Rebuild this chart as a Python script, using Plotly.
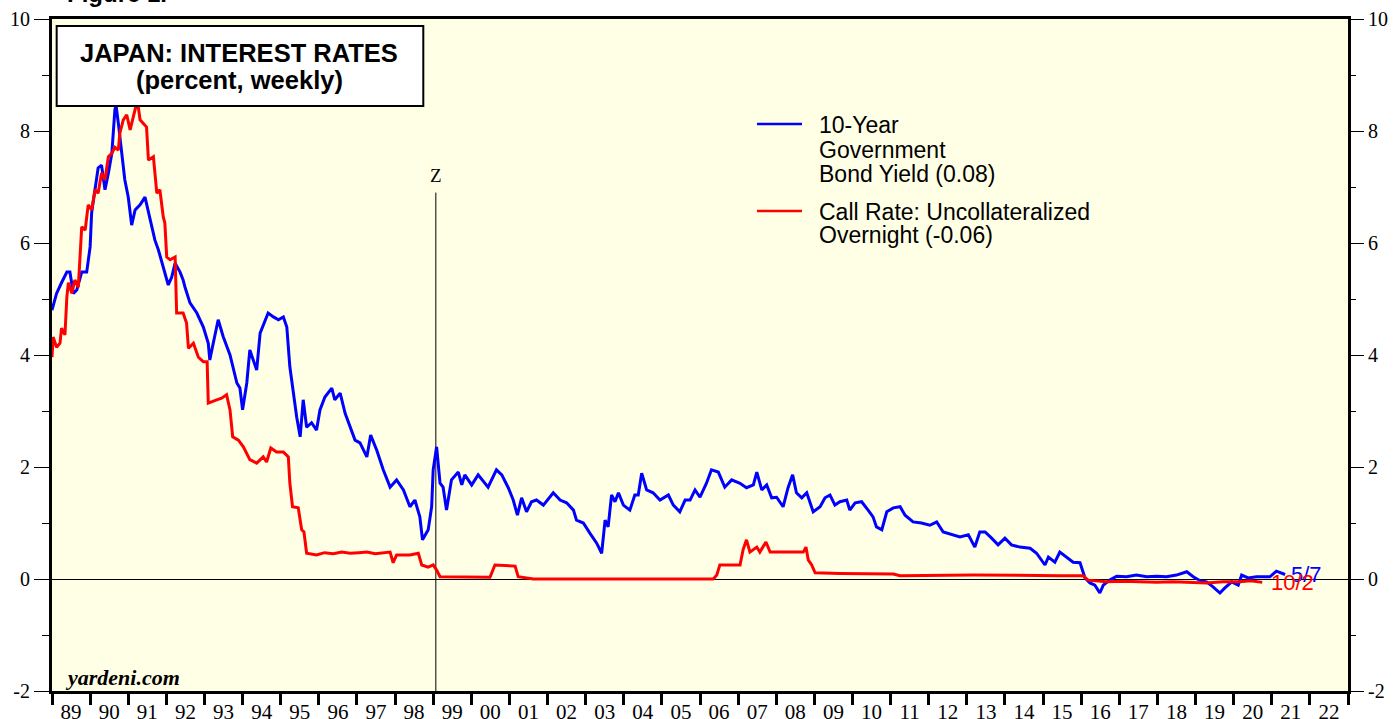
import plotly.graph_objects as go

# ---------------- data (decimal years, percent) ----------------
jgb_years = [1989.00, 1989.12, 1989.25, 1989.39, 1989.47, 1989.56, 1989.65, 1989.78, 1989.91, 1990.00,
             1990.04, 1990.13, 1990.21, 1990.30, 1990.39, 1990.48, 1990.57, 1990.65, 1990.68, 1990.74,
             1990.83, 1990.91, 1991.00, 1991.09, 1991.18, 1991.31, 1991.44, 1991.57, 1991.70, 1991.79,
             1991.92, 1992.05, 1992.14, 1992.23, 1992.36, 1992.44, 1992.49, 1992.62, 1992.80, 1992.97,
             1993.10, 1993.14, 1993.23, 1993.36, 1993.49, 1993.67, 1993.85, 1993.93, 1994.00, 1994.11,
             1994.19, 1994.28, 1994.37, 1994.46, 1994.59, 1994.67, 1994.81, 1994.94, 1995.07, 1995.16,
             1995.24, 1995.33, 1995.42, 1995.51, 1995.59, 1995.68, 1995.81, 1995.94, 1996.03, 1996.16,
             1996.34, 1996.42, 1996.56, 1996.69, 1996.82, 1996.95, 1997.08, 1997.26, 1997.36, 1997.52,
             1997.69, 1997.87, 1998.04, 1998.22, 1998.39, 1998.52, 1998.65, 1998.72, 1998.87, 1998.96,
             1999.00, 1999.09, 1999.18, 1999.26, 1999.35, 1999.48, 1999.66, 1999.75, 1999.83, 2000.01,
             2000.18, 2000.44, 2000.66, 2000.80, 2000.97, 2001.10, 2001.21, 2001.32, 2001.45, 2001.58,
             2001.71, 2001.89, 2002.15, 2002.33, 2002.50, 2002.68, 2002.76, 2002.94, 2003.11, 2003.29,
             2003.42, 2003.51, 2003.59, 2003.68, 2003.77, 2003.86, 2003.99, 2004.16, 2004.29, 2004.38,
             2004.47, 2004.60, 2004.77, 2004.95, 2005.17, 2005.30, 2005.47, 2005.61, 2005.74, 2005.87,
             2006.00, 2006.17, 2006.30, 2006.48, 2006.65, 2006.83, 2007.05, 2007.22, 2007.40, 2007.49,
             2007.62, 2007.75, 2007.88, 2008.01, 2008.18, 2008.31, 2008.43, 2008.53, 2008.67, 2008.80,
             2008.97, 2009.15, 2009.28, 2009.41, 2009.54, 2009.67, 2009.85, 2009.93, 2010.07, 2010.24,
             2010.41, 2010.54, 2010.63, 2010.77, 2010.90, 2011.07, 2011.25, 2011.38, 2011.59, 2011.81,
             2012.03, 2012.21, 2012.38, 2012.60, 2012.82, 2013.04, 2013.21, 2013.34, 2013.48, 2013.65,
             2013.82, 2014.00, 2014.17, 2014.39, 2014.66, 2014.83, 2015.05, 2015.14, 2015.31, 2015.44,
             2015.62, 2015.79, 2015.97, 2016.10, 2016.23, 2016.36, 2016.49, 2016.58, 2016.75, 2016.93,
             2017.19, 2017.45, 2017.72, 2017.98, 2018.24, 2018.50, 2018.77, 2018.94, 2019.12, 2019.29,
             2019.46, 2019.64, 2019.77, 2019.95, 2020.12, 2020.21, 2020.38, 2020.60, 2020.78, 2020.95,
             2021.12, 2021.28, 2021.35]
jgb_values = [4.80, 5.10, 5.29, 5.48, 5.48, 5.10, 5.16, 5.48, 5.48, 5.93,
              6.54, 6.95, 7.34, 7.39, 6.95, 7.25, 7.60, 8.38, 8.46, 8.14,
              7.54, 7.13, 6.82, 6.32, 6.59, 6.68, 6.82, 6.46, 6.05, 5.88,
              5.57, 5.25, 5.39, 5.64, 5.48, 5.34, 5.21, 4.93, 4.75, 4.50,
              4.21, 3.91, 4.21, 4.63, 4.33, 4.00, 3.50, 3.41, 3.02, 3.50,
              4.09, 3.91, 3.73, 4.39, 4.63, 4.75, 4.68, 4.63, 4.68, 4.50,
              3.79, 3.32, 2.89, 2.54, 3.20, 2.71, 2.79, 2.66, 3.02, 3.25,
              3.41, 3.20, 3.32, 2.96, 2.71, 2.48, 2.43, 2.18, 2.57, 2.30,
              1.95, 1.64, 1.77, 1.59, 1.29, 1.41, 1.11, 0.70, 0.88, 1.29,
              1.95, 2.36, 1.71, 1.64, 1.23, 1.77, 1.91, 1.68, 1.86, 1.68,
              1.86, 1.64, 1.95, 1.86, 1.63, 1.41, 1.14, 1.45, 1.20, 1.38,
              1.41, 1.32, 1.54, 1.41, 1.36, 1.23, 1.05, 1.00, 0.82, 0.64,
              0.46, 1.05, 0.93, 1.50, 1.38, 1.54, 1.32, 1.23, 1.50, 1.50,
              1.89, 1.59, 1.54, 1.41, 1.50, 1.32, 1.20, 1.41, 1.41, 1.59,
              1.46, 1.71, 1.95, 1.91, 1.64, 1.77, 1.71, 1.63, 1.68, 1.91,
              1.59, 1.68, 1.45, 1.46, 1.29, 1.63, 1.86, 1.54, 1.45, 1.54,
              1.20, 1.29, 1.45, 1.50, 1.32, 1.38, 1.41, 1.23, 1.36, 1.38,
              1.23, 1.11, 0.93, 0.88, 1.20, 1.27, 1.29, 1.14, 1.02, 1.00,
              0.96, 1.02, 0.84, 0.79, 0.75, 0.79, 0.57, 0.84, 0.84, 0.73,
              0.61, 0.73, 0.61, 0.57, 0.55, 0.46, 0.25, 0.39, 0.30, 0.48,
              0.39, 0.30, 0.29, 0.02, -0.07, -0.11, -0.25, -0.11, -0.02, 0.05,
              0.04, 0.07, 0.04, 0.05, 0.04, 0.07, 0.13, 0.04, -0.03, -0.05,
              -0.14, -0.25, -0.16, -0.05, -0.11, 0.07, 0.02, 0.04, 0.04, 0.04,
              0.14, 0.09, 0.08]

call_years = [1989.00, 1989.03, 1989.12, 1989.21, 1989.25, 1989.34, 1989.39, 1989.43, 1989.52, 1989.60,
              1989.69, 1989.78, 1989.87, 1989.95, 1990.04, 1990.13, 1990.21, 1990.30, 1990.39, 1990.48,
              1990.57, 1990.65, 1990.74, 1990.78, 1990.87, 1990.96, 1991.05, 1991.13, 1991.24, 1991.31,
              1991.40, 1991.48, 1991.53, 1991.66, 1991.75, 1991.83, 1991.92, 1991.96, 1992.01, 1992.10,
              1992.23, 1992.27, 1992.44, 1992.53, 1992.58, 1992.71, 1992.84, 1992.97, 1993.07, 1993.10,
              1993.32, 1993.45, 1993.58, 1993.67, 1993.74, 1993.89, 1994.02, 1994.19, 1994.37, 1994.54,
              1994.63, 1994.74, 1994.89, 1995.07, 1995.20, 1995.24, 1995.31, 1995.46, 1995.55, 1995.61,
              1995.68, 1995.94, 1996.15, 1996.38, 1996.60, 1996.82, 1997.05, 1997.26, 1997.48, 1997.69,
              1997.87, 1997.95, 1998.04, 1998.39, 1998.61, 1998.70, 1998.87, 1999.00, 1999.09, 1999.18,
              2000.49, 2000.62, 2001.15, 2001.23, 2001.63, 2006.35, 2006.44, 2006.52, 2006.96, 2007.05,
              2007.13, 2007.22, 2007.31, 2007.49, 2007.57, 2007.73, 2007.84, 2008.71, 2008.78, 2008.84,
              2008.93, 2009.02, 2009.67, 2011.07, 2011.25, 2013.17, 2015.44, 2016.05, 2016.18, 2016.66,
              2017.10, 2017.54, 2017.98, 2018.41, 2018.85, 2019.29, 2019.72, 2020.16, 2020.45, 2020.75]
call_values = [3.96, 4.32, 4.14, 4.21, 4.48, 4.36, 5.04, 5.29, 5.10, 5.34,
               5.21, 6.29, 6.23, 6.68, 6.59, 6.95, 6.89, 7.25, 7.13, 7.54,
               7.60, 7.71, 7.66, 7.96, 8.20, 8.29, 8.02, 8.25, 8.55, 8.20,
               8.14, 8.07, 7.48, 7.54, 6.89, 6.95, 6.46, 6.36, 5.75, 5.70,
               5.75, 4.75, 4.75, 4.57, 4.12, 4.21, 3.96, 3.88, 3.88, 3.14,
               3.20, 3.23, 3.29, 3.02, 2.54, 2.48, 2.36, 2.13, 2.07, 2.18,
               2.09, 2.34, 2.27, 2.27, 2.18, 1.71, 1.29, 1.27, 0.88, 0.84,
               0.46, 0.43, 0.47, 0.45, 0.48, 0.46, 0.47, 0.48, 0.45, 0.46,
               0.48, 0.29, 0.43, 0.43, 0.46, 0.25, 0.21, 0.25, 0.16, 0.04,
               0.03, 0.25, 0.23, 0.04, 0.002, 0.002, 0.07, 0.25, 0.25, 0.25,
               0.52, 0.70, 0.48, 0.57, 0.48, 0.66, 0.48, 0.48, 0.57, 0.34,
               0.25, 0.11, 0.10, 0.09, 0.06, 0.07, 0.06, 0.06, -0.02, -0.05,
               -0.04, -0.05, -0.06, -0.05, -0.06, -0.07, -0.05, -0.05, -0.03, -0.06]

year_ticks = list(range(1989, 2024))
label_pos = [y + 0.5 for y in range(1989, 2023)]
label_text = ["%02d" % (y % 100) for y in range(1989, 2023)]
y_ticks = [-2, 0, 2, 4, 6, 8, 10]
y_ticktext = ["-2", "0", "2", "4", "6", "8", "10"]
y_minor = [-1, 1, 3, 5, 7, 9]
zirp_start = 1999.07

BLUE = "#0000FF"
RED = "#FF0000"
SERIF = "Liberation Serif, Times New Roman, serif"
SANS = "Liberation Sans, Arial, sans-serif"

fig = go.Figure()
fig.add_trace(go.Scatter(x=jgb_years, y=jgb_values, mode="lines",
                         line=dict(color=BLUE, width=3), xaxis="x", yaxis="y",
                         showlegend=False, hoverinfo="x+y"))
fig.add_trace(go.Scatter(x=call_years, y=call_values, mode="lines",
                         line=dict(color=RED, width=3), xaxis="x", yaxis="y2",
                         showlegend=False, hoverinfo="x+y"))

yaxis_common = dict(range=[-2, 10], tickmode="array", tickvals=y_ticks, ticktext=y_ticktext,
                    ticks="outside", ticklen=15, tickwidth=1, tickcolor="black", automargin=False,
                    minor=dict(tickmode="array", tickvals=y_minor, ticks="outside",
                               ticklen=7, tickwidth=1, tickcolor="black", showgrid=False),
                    tickfont=dict(family=SERIF, size=20, color="black"), showgrid=False)

fig.update_layout(
    width=1394, height=719,
    margin=dict(l=52, r=46, t=19, b=28, autoexpand=False),
    paper_bgcolor="white",
    plot_bgcolor="#FFFFE6",
    showlegend=False,
    xaxis=dict(range=[1989, 2023], tickmode="array", tickvals=label_pos, ticktext=label_text,
               ticks="", automargin=False,
               tickfont=dict(family=SERIF, size=21, color="black"),
               minor=dict(tickmode="array", tickvals=year_ticks, ticks="outside", ticklen=11,
                          tickwidth=3, tickcolor="black", showgrid=False),
               showgrid=False, zeroline=False, showline=True, linecolor="black",
               linewidth=3, mirror=True),
    yaxis=dict(**yaxis_common, zeroline=True, zerolinecolor="black", zerolinewidth=1,
               showline=True, linecolor="black", linewidth=3, mirror=True),
    yaxis2=dict(**yaxis_common, overlaying="y", side="right", matches="y",
                zeroline=False, showline=False),
)

# Z vertical line (zero interest rate policy)
fig.add_shape(type="line", xref="x", yref="y", x0=zirp_start, x1=zirp_start, y0=-2, y1=6.9,
              line=dict(color="black", width=1), layer="below")
fig.add_annotation(x=zirp_start, y=7.21, xref="x", yref="y", text="Z", showarrow=False,
                   xanchor="center", font=dict(family=SERIF, size=19, color="black"))

# Title box
fig.add_shape(type="rect", xref="paper", yref="paper", x0=0.0036, x1=0.2865, y0=0.8705, y1=0.9896,
              fillcolor="white", line=dict(color="black", width=2), layer="above")
fig.add_annotation(x=0.1443, y=0.9494, xref="paper", yref="paper", text="<b>JAPAN: INTEREST RATES</b>",
                   xanchor="center", yanchor="middle",
                   showarrow=False, font=dict(family=SANS, size=25.5, color="black"))
fig.add_annotation(x=0.1443, y=0.9092, xref="paper", yref="paper", text="<b>(percent, weekly)</b>",
                   xanchor="center", yanchor="middle",
                   showarrow=False, font=dict(family=SANS, size=25.5, color="black"))

# Figure label at very top (partly cut off)
fig.add_annotation(x=0.010, y=1.0149, xref="paper", yref="paper", text="<b>Figure 1.</b>",
                   xanchor="left", yanchor="bottom", showarrow=False,
                   font=dict(family=SANS, size=24, color="black"))

# Source
fig.add_annotation(x=0.0085, y=0.0208, xref="paper", yref="paper", text="<b><i>yardeni.com</i></b>",
                   xanchor="left", yanchor="middle", showarrow=False,
                   font=dict(family=SERIF, size=22, color="black"))

# Legend (manual)
fig.add_shape(type="line", xref="paper", yref="paper", x0=0.544, x1=0.5787, y0=0.8438, y1=0.8438,
              line=dict(color=BLUE, width=2.5))
fig.add_shape(type="line", xref="paper", yref="paper", x0=0.544, x1=0.5787, y0=0.7143, y1=0.7143,
              line=dict(color=RED, width=2.5))
legend_lines = [("10-Year", 0.8423), ("Government", 0.8051), ("Bond Yield (0.08)", 0.7693),
                ("Call Rate: Uncollateralized", 0.7128), ("Overnight (-0.06)", 0.6786)]
for txt, yp in legend_lines:
    fig.add_annotation(x=0.590, y=yp, xref="paper", yref="paper", text=txt, xanchor="left",
                       yanchor="middle", showarrow=False,
                       font=dict(family=SANS, size=23, color="black"))

# End labels
fig.add_annotation(x=jgb_years[-1], y=jgb_values[-1], xref="x", yref="y", text="5/7",
                   xanchor="left", yanchor="middle", xshift=4, showarrow=False,
                   font=dict(family=SANS, size=22, color=BLUE))
fig.add_annotation(x=call_years[-1], y=call_values[-1], xref="x", yref="y", text="10/2",
                   xanchor="left", yanchor="middle", xshift=7, showarrow=False,
                   font=dict(family=SANS, size=22, color=RED))

fig.write_html("out.html", config={"displayModeBar": False},
               post_script="document.body.style.margin='0px';")
